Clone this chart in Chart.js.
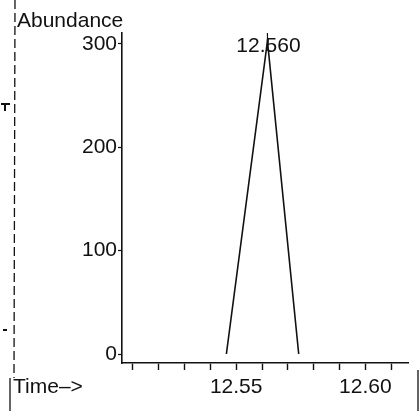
<!DOCTYPE html>
<html>
<head>
<meta charset="utf-8">
<script src="https://cdn.jsdelivr.net/npm/chart.js@4/dist/chart.umd.min.js"></script>
<style>
  html, body { margin: 0; padding: 0; background: #fff; }
  #wrap { width: 420px; height: 411px; position: relative; }
</style>
</head>
<body>
<div id="wrap"><canvas id="peakChart"></canvas></div>
<script>
// Peak data
const retentionTimes = [12.5462, 12.5621, 12.5742];
const abundance = [0, 303, 0];
const peakLabels = ['12.560'];
const xTickValues = [12.51, 12.52, 12.53, 12.54, 12.55, 12.56, 12.57, 12.58, 12.59, 12.60, 12.61];
const xTickLabels = { '12.55': '12.55', '12.6': '12.60' };
const yTickValues = [0, 100, 200, 300];

const FONT = '"Liberation Sans", Arial, sans-serif';

// axis titles, peak label and the scan's border lines
const extras = {
    id: 'extras',
    afterDraw(chart) {
        const c = chart.ctx;
        const xs = chart.scales.x;
        const apexX = xs.getPixelForValue(retentionTimes[1]);
        c.save();
        c.fillStyle = '#111';
        c.font = '21px ' + FONT;
        c.textBaseline = 'alphabetic';
        c.textAlign = 'left';
        c.fillText('Abundance', 17, 27);
        c.fillText('Time\u2013>', 13, 393);

        // peak label at apex
        c.textAlign = 'center';
        c.fillText(peakLabels[0], apexX + 1, 52);
        c.strokeStyle = '#111';
        c.lineWidth = 1.2;
        c.beginPath();
        c.moveTo(apexX, 33);
        c.lineTo(apexX, 42);
        c.stroke();

        // left dashed frame line from the scan
        c.lineWidth = 1.3;
        c.setLineDash([9, 4]);
        c.beginPath();
        c.moveTo(15, 0);
        c.lineTo(14, 378);
        c.stroke();
        c.setLineDash([]);
        c.beginPath();
        c.moveTo(10, 378);
        c.lineTo(10, 411);
        c.stroke();
        // right edge mark
        c.beginPath();
        c.moveTo(418, 370);
        c.lineTo(418, 411);
        c.stroke();
        // small marks at the left
        c.lineWidth = 2;
        c.beginPath();
        c.moveTo(1, 104); c.lineTo(10, 104);
        c.moveTo(5, 104); c.lineTo(5, 111);
        c.moveTo(3, 330); c.lineTo(7, 330);
        c.stroke();
        c.restore();
    }
};

const ctx = document.getElementById('peakChart').getContext('2d');
const peakChart = new Chart(ctx, {
    type: 'line',
    data: {
        datasets: [{
            data: retentionTimes.map((t, i) => ({ x: t, y: abundance[i] })),
            borderColor: '#111',
            borderWidth: 1.6,
            pointRadius: 0,
            tension: 0,
            fill: false
        }]
    },
    options: {
        responsive: true,
        maintainAspectRatio: false,
        animation: false,
        layout: { padding: { top: 33, right: 12, left: 0, bottom: 0 } },
        plugins: {
            legend: { display: false },
            tooltip: { enabled: false }
        },
        scales: {
            x: {
                type: 'linear',
                min: 12.5058,
                max: 12.6165,
                afterBuildTicks: (scale) => {
                    scale.ticks = xTickValues.map(v => ({ value: v }));
                },
                afterFit: (scale) => { scale.height = 48; },
                border: { display: true, color: '#111', width: 1.6 },
                grid: { drawOnChartArea: false, drawTicks: true, tickLength: 7, color: '#111', tickWidth: 1.4 },
                ticks: {
                    autoSkip: false,
                    maxRotation: 0,
                    padding: 5,
                    color: '#111',
                    font: { family: FONT, size: 21 },
                    callback: (v) => xTickLabels[String(Math.round(v * 100) / 100)] || ''
                }
            },
            y: {
                min: -8.7,
                max: 310.6,
                afterBuildTicks: (scale) => {
                    scale.ticks = yTickValues.map(v => ({ value: v }));
                },
                afterFit: (scale) => { scale.width = 122; },
                border: { display: true, color: '#111', width: 1.6 },
                grid: { drawOnChartArea: false, drawTicks: true, tickLength: 4, color: '#111', tickWidth: 1.2 },
                ticks: {
                    padding: 1,
                    color: '#111',
                    font: { family: FONT, size: 21 }
                }
            }
        }
    },
    plugins: [extras]
});
</script>
</body>
</html>
